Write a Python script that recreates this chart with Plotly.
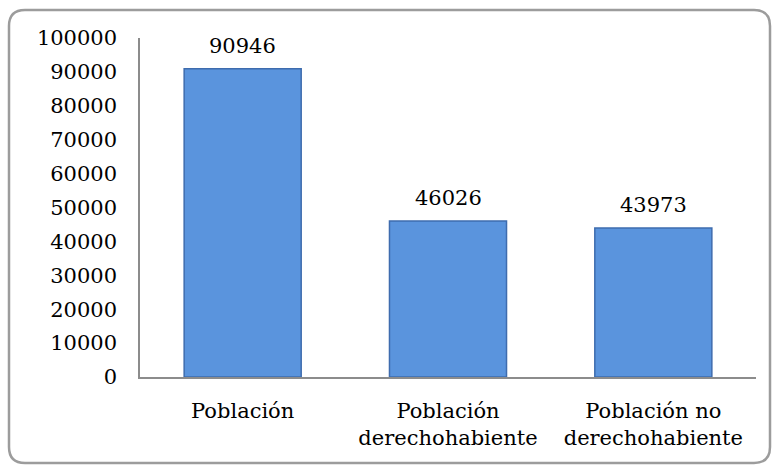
import plotly.graph_objects as go

categories = ["Población", "Población<br>derechohabiente", "Población no<br>derechohabiente"]
values = [90946, 46026, 43973]
y_ticks = [0, 10000, 20000, 30000, 40000, 50000, 60000, 70000, 80000, 90000, 100000]
y_tick_labels = [str(v) for v in y_ticks]

W, H = 773, 466
L, R, T, B = 140, 17, 38, 89
pw, ph = W - L - R, H - T - B

def px(x):
    return (x - L) / pw

def py(y):
    return (H - B - y) / ph

fig = go.Figure()
fig.add_trace(go.Bar(
    x=categories, y=values,
    marker=dict(color="#5A94DD", line=dict(color="#3E6CAE", width=1.5)),
    hoverinfo="skip",
))

for c, v in zip(categories, values):
    fig.add_annotation(x=c, y=v, text=str(v), showarrow=False, yanchor="bottom",
                       yshift=9, font=dict(family="DejaVu Serif", size=21, color="#000"))

# rounded border
x0, x1, y0, y1, r = 9, 770, 10, 463, 16
path = (f"M {px(x0)} {py(y0 + r)} Q {px(x0)} {py(y0)} {px(x0 + r)} {py(y0)} "
        f"L {px(x1 - r)} {py(y0)} Q {px(x1)} {py(y0)} {px(x1)} {py(y0 + r)} "
        f"L {px(x1)} {py(y1 - r)} Q {px(x1)} {py(y1)} {px(x1 - r)} {py(y1)} "
        f"L {px(x0 + r)} {py(y1)} Q {px(x0)} {py(y1)} {px(x0)} {py(y1 - r)} Z")
fig.add_shape(type="path", path=path, xref="paper", yref="paper",
              line=dict(color="#9C9C9C", width=2.5), layer="below")

fig.update_layout(
    width=W, height=H,
    margin=dict(l=L, r=R, t=T, b=B, autoexpand=False),
    paper_bgcolor="white", plot_bgcolor="white",
    bargap=0.43,
    showlegend=False,
    font=dict(family="DejaVu Serif", size=21, color="#000"),
)
fig.update_xaxes(showline=True, linecolor="#8C8C8C", linewidth=1.5, showgrid=False,
                 ticks="", tickfont=dict(size=21), ticklabelstandoff=14, automargin=False)
fig.update_yaxes(range=[0, 100000], tickvals=y_ticks, ticktext=y_tick_labels, showline=True,
                 linecolor="#8C8C8C", linewidth=1.5, showgrid=False, zeroline=False, ticks="",
                 tickfont=dict(size=21), ticklabelstandoff=17, automargin=False)

fig.write_html("out.html", config={"displayModeBar": False},
               post_script="document.body.style.margin='0';document.body.style.overflow='hidden';")
